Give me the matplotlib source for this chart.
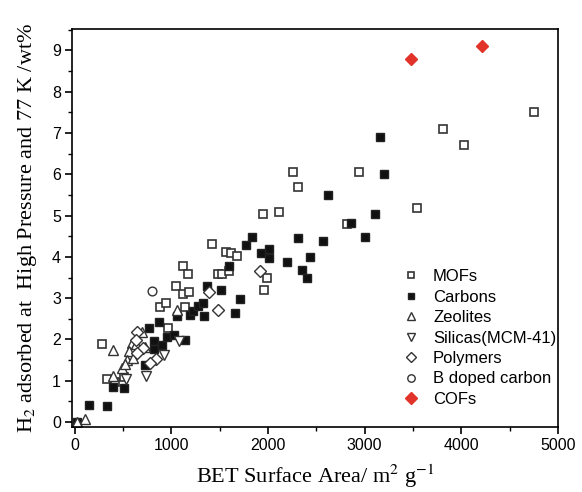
import matplotlib
matplotlib.use("Agg")
import matplotlib.pyplot as plt
from matplotlib.ticker import MultipleLocator

plt.rcParams["mathtext.fontset"] = "stix"

# ---- data (BET surface area m2/g, H2 uptake wt%) ----
mof_x = [4749, 3807, 4028, 2942, 2258, 2311, 3539, 1946, 2111, 2815, 1422, 1567, 1615, 1684,
         1119, 1170, 1484, 1529, 1598, 1990, 1046, 1119, 1181, 1960, 884, 950, 1139, 970,
         281, 333, 419, 515]
mof_y = [7.5, 7.1, 6.71, 6.06, 6.06, 5.70, 5.19, 5.05, 5.09, 4.80, 4.31, 4.13, 4.09, 4.01,
         3.79, 3.59, 3.59, 3.59, 3.66, 3.48, 3.29, 3.09, 3.16, 3.19, 2.78, 2.88, 2.79, 2.27,
         1.89, 1.04, 0.96, 1.09]

carbon_x = [3159, 3197, 2622, 3111, 2863, 3008, 2573, 2311, 1839, 1777, 2432, 2349, 2401, 2201,
            2008, 1932, 2015, 1601, 1373, 1515, 1715, 1663, 1063, 1194, 1222, 1277, 1326, 1335,
            871, 773, 825, 905, 953, 1032, 1146, 825, 729, 393, 512, 148, 333, 30]
carbon_y = [6.91, 6.0, 5.50, 5.04, 4.81, 4.48, 4.39, 4.46, 4.49, 4.29, 3.99, 3.69, 3.50, 3.88,
            4.19, 4.09, 3.98, 3.79, 3.29, 3.19, 2.98, 2.63, 2.58, 2.59, 2.70, 2.80, 2.88, 2.58,
            2.42, 2.27, 1.97, 1.87, 2.05, 2.10, 1.98, 1.77, 1.37, 0.86, 0.83, 0.42, 0.38, 0.0]

zeo_x = [1063, 695, 591, 401, 567, 546, 488, 401, 608, 729, 520, 640, 30, 112]
zeo_y = [2.72, 2.18, 1.91, 1.74, 1.71, 1.51, 1.31, 1.12, 1.55, 1.81, 1.40, 1.90, 0.0, 0.07]

sil_x = [1078, 929, 736, 532]
sil_y = [1.97, 1.63, 1.12, 1.04]

poly_x = [1918, 1391, 1481, 650, 636, 705, 650, 843, 781]
poly_y = [3.66, 3.15, 2.72, 2.18, 1.98, 1.79, 1.67, 1.53, 1.43]

bdc_x = [798]
bdc_y = [3.18]

cof_x = [3480, 4210]
cof_y = [8.8, 9.1]

labels = ["MOFs", "Carbons", "Zeolites", "Silicas(MCM-41)", "Polymers", "B doped carbon", "COFs"]

fig = plt.figure(figsize=(5.82, 4.92), dpi=100)
ax = fig.add_axes([72/582, 1-427/492, (558-72)/582, (427-29)/492])

ec = "#333333"
ms = 5.8
ax.plot(mof_x, mof_y, ls="none", marker="s", ms=ms, mfc="white", mec=ec, mew=1.2, label=labels[0])
ax.plot(carbon_x, carbon_y, ls="none", marker="s", ms=ms, mfc="#111111", mec="#222222", mew=1.0, label=labels[1])
ax.plot(zeo_x, zeo_y, ls="none", marker="^", ms=ms+1.2, mfc="white", mec=ec, mew=1.0, label=labels[2])
ax.plot(sil_x, sil_y, ls="none", marker="v", ms=ms+1.2, mfc="white", mec=ec, mew=1.0, label=labels[3])
ax.plot(poly_x, poly_y, ls="none", marker="D", ms=ms, mfc="white", mec=ec, mew=1.0, label=labels[4])
ax.plot(bdc_x, bdc_y, ls="none", marker="o", ms=ms+0.5, mfc="white", mec=ec, mew=1.0, label=labels[5])
ax.plot(cof_x, cof_y, ls="none", marker="D", ms=ms+0.8, mfc="#e2332a", mec="#e2332a", mew=1.0, label=labels[6])

ax.set_xlim(-26, 5000)
ax.set_ylim(-0.12, 9.52)
ax.xaxis.set_major_locator(MultipleLocator(1000))
ax.xaxis.set_minor_locator(MultipleLocator(500))
ax.yaxis.set_major_locator(MultipleLocator(1))
ax.yaxis.set_minor_locator(MultipleLocator(0.5))
ax.tick_params(which="major", direction="out", length=5, width=1.2, labelsize=11.5, pad=3)
ax.tick_params(which="minor", direction="out", length=3, width=1.0)
for lab in ax.get_xticklabels() + ax.get_yticklabels():
    lab.set_fontfamily("Liberation Sans")
for s in ax.spines.values():
    s.set_linewidth(1.2)

ax.set_xlabel(r"BET Surface Area/ m$^2$ g$^{-1}$", family="Liberation Serif", fontsize=16, labelpad=7)
ax.set_ylabel(r"H$_2$ adsorbed at  High Pressure and 77 K /wt%", family="Liberation Serif", fontsize=16, labelpad=9)

leg = ax.legend(loc="upper left", bbox_to_anchor=((403-72)/486, 1-(269-29)/398), frameon=False,
                prop={"family": "Liberation Sans", "size": 12}, handlelength=0.9,
                handletextpad=0.9, labelspacing=0.33, markerscale=0.85, borderaxespad=0, borderpad=0)

fig.savefig("out.png", dpi=100)
